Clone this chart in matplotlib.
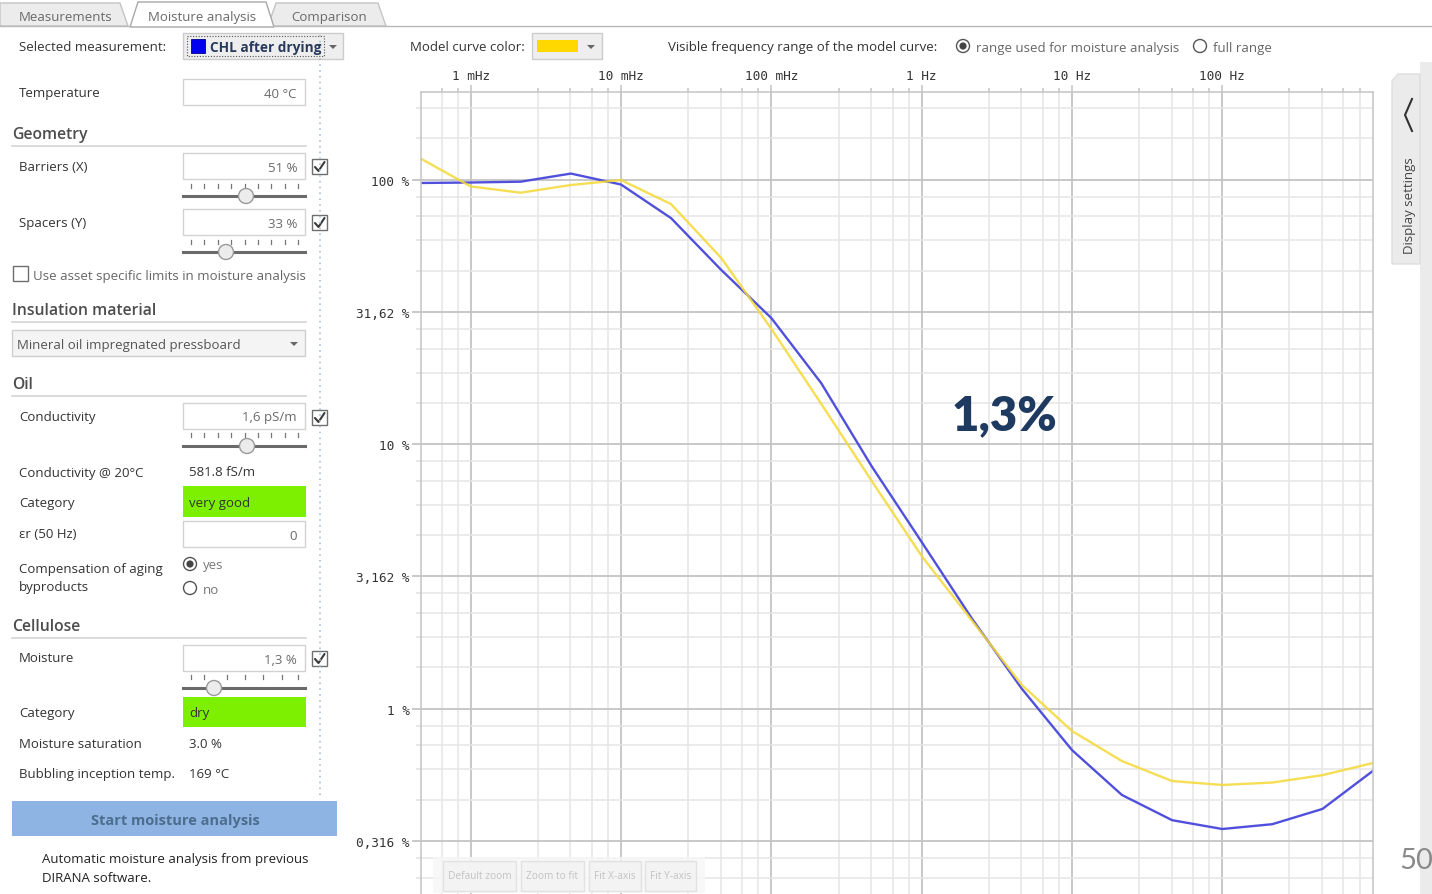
import numpy as np
import matplotlib.pyplot as plt
from matplotlib.patches import Rectangle, Circle, Polygon
from matplotlib.ticker import FixedLocator, FixedFormatter, NullFormatter

W, H = 1432, 895
UI_FONT = ['Open Sans', 'DejaVu Sans']
MONO = 'DejaVu Sans Mono'

# dielectric response: measured curve and fitted model curve
freq_hz = [0.000464, 0.001, 0.00215, 0.00464, 0.01, 0.0215, 0.0464, 0.1, 0.215, 0.464,
           1.0, 2.15, 4.64, 10.0, 21.5, 46.4, 100.0, 215.0, 464.0, 1000.0]
measured = [97.2, 97.6, 98.3, 105.5, 95.9, 71.6, 45.6, 30.0, 17.0, 8.27,
            4.27, 2.20, 1.19, 0.698, 0.472, 0.379, 0.351, 0.366, 0.418, 0.581]
model = [120.3, 94.3, 89.3, 95.5, 99.7, 80.9, 50.6, 27.3, 14.2, 7.28,
         3.78, 2.16, 1.23, 0.824, 0.634, 0.533, 0.515, 0.526, 0.561, 0.623]

x_ticks = [1e-3, 1e-2, 1e-1, 1.0, 10.0, 100.0]
x_labels = ['1 mHz', '10 mHz', '100 mHz', '1 Hz', '10 Hz', '100 Hz']
y_ticks = [100, 31.62, 10, 3.162, 1, 0.3162]
y_labels = ['100 %', '31,62 %', '10 %', '3,162 %', '1 %', '0,316 %']
moisture_result = '1,3%'

fig = plt.figure(figsize=(W / 100, H / 100), dpi=100)
fig.patch.set_facecolor('white')

# --- panel around the chart (pixel coordinates) ---
ui = fig.add_axes([0, 0, 1, 1])
ui.set_xlim(0, W)
ui.set_ylim(H, 0)
ui.axis('off')


def txt(a, x, y, s, size=9.5, color='#333333', ha='left', weight='normal', **kw):
    a.text(x, y + 1, s, fontsize=size, color=color, ha=ha, va='center',
           fontweight=weight, family=kw.pop('family', UI_FONT), **kw)


def box(x0, y0, x1, y1, fc='white', ec='#d2d2d2', lw=1.0, a=ui, **kw):
    a.add_patch(Rectangle((x0, y0), x1 - x0, y1 - y0, fc=fc, ec=ec, lw=lw, **kw))


def textbox(y0, value):
    box(183, y0, 305, y0 + 26)
    txt(ui, 297, y0 + 13, value, color='#6a6a6a', ha='right')


def checkbox(x, y, checked):
    box(x, y, x + 15, y + 15, ec='#6e6e6e')
    if checked:
        ui.plot([x + 3, x + 6.5, x + 12.5], [y + 8, y + 12, y + 3], color='#3a3a3a', lw=1.5,
                solid_capstyle='round')


def slider(ticks, y_tick, y_track, thumb):
    for t in ticks:
        ui.plot([t, t], [y_tick, y_tick + 4], color='#777777', lw=0.9)
    ui.plot([183, 305], [y_track, y_track], color='#6a6a6a', lw=2.2)
    ui.add_patch(Circle((thumb, y_track), 7.5, fc='#ececec', ec='#9a9a9a', lw=1, zorder=3))


def header(y, s):
    txt(ui, 12, y, s, size=11.3, color='#4d4d4d', weight='semibold')
    ui.plot([12, 306], [y + 13, y + 13], color='#d4d4d4', lw=1.2)


def radio(x, y, on):
    ui.add_patch(Circle((x, y), 6.5, fc='white', ec='#555555', lw=1))
    if on:
        ui.add_patch(Circle((x, y), 3.6, fc='#444444', ec='none'))


def arrow(x, y):
    ui.add_patch(Polygon([(x - 4, y - 2), (x + 4, y - 2), (x, y + 2)], fc='#666666', ec='none'))


# tabs
ui.add_patch(Polygon([(0, 27), (0, 4), (120, 4), (128, 27)], fc='#ececec', ec='#c4c4c4', lw=1))
ui.add_patch(Polygon([(268, 27), (276, 4), (378, 4), (386, 27)], fc='#ececec', ec='#c4c4c4', lw=1))
ui.add_patch(Polygon([(130, 28), (138, 3), (266, 3), (274, 28)], fc='white', ec='#a8a8a8', lw=1))
ui.plot([0, 131], [27, 27], color='#b8b8b8', lw=1)
ui.plot([273, W], [27, 27], color='#b8b8b8', lw=1)
txt(ui, 66, 16, 'Measurements', color='#6a6a6a', ha='center')
txt(ui, 202, 16, 'Moisture analysis', color='#6a6a6a', ha='center')
txt(ui, 329, 16, 'Comparison', color='#6a6a6a', ha='center')

# measurement selector
txt(ui, 19, 46, 'Selected measurement:')
box(183, 34, 343, 60, fc='#eeeeee', ec='#cccccc')
box(187, 37, 324, 57, fc='none', ec='#555555', lw=0.8, ls=(0, (1, 1.5)))
box(191, 40, 205, 54, fc='#0000ee', ec='#000088', lw=0.6)
txt(ui, 210, 47, 'CHL after drying', color='#27395c', weight='bold', size=9.8)
arrow(333, 48)

txt(ui, 19, 92, 'Temperature')
textbox(80, '40 °C')

header(134, 'Geometry')
txt(ui, 19, 166, 'Barriers (X)')
textbox(154, '51 %')
checkbox(312, 160, True)
slider(np.linspace(191, 298, 9), 185, 197, 246)

txt(ui, 19, 222, 'Spacers (Y)')
textbox(210, '33 %')
checkbox(312, 216, True)
slider(np.linspace(191, 298, 9), 241, 253, 226)

checkbox(13, 267, False)
txt(ui, 33, 275, 'Use asset specific limits in moisture analysis', color='#666666')

header(310, 'Insulation material')
box(12, 331, 305, 357, fc='#f4f4f4', ec='#cfcfcf')
txt(ui, 17, 344, 'Mineral oil impregnated pressboard', color='#555555')
arrow(294, 345)

header(384, 'Oil')
txt(ui, 19, 416, 'Conductivity')
textbox(404, '1,6 pS/m')
checkbox(312, 411, True)
slider(np.linspace(191, 298, 9), 434, 447, 247)

txt(ui, 19, 472, 'Conductivity @ 20°C')
txt(ui, 189, 472, '581.8 fS/m')
txt(ui, 19, 503, 'Category')
box(183, 487, 306, 518, fc='#7cf000', ec='none')
txt(ui, 189, 503, 'very good')
txt(ui, 19, 534, 'εr (50 Hz)')
textbox(522, '0')
txt(ui, 19, 568, 'Compensation of aging')
txt(ui, 19, 587, 'byproducts')
radio(190, 565, True)
txt(ui, 203, 565, 'yes', color='#777777')
radio(190, 589, False)
txt(ui, 203, 590, 'no', color='#777777')

header(626, 'Cellulose')
txt(ui, 19, 658, 'Moisture')
textbox(646, '1,3 %')
checkbox(312, 652, True)
slider([191, 204, 227, 245, 263, 282, 298], 676, 689, 214)
txt(ui, 19, 713, 'Category')
box(183, 698, 306, 728, fc='#7cf000', ec='none')
txt(ui, 189, 713, 'dry')
txt(ui, 19, 744, 'Moisture saturation')
txt(ui, 189, 744, '3.0 %')
txt(ui, 19, 774, 'Bubbling inception temp.')
txt(ui, 189, 774, '169 °C')

ui.plot([320, 320], [36, 800], color='#a9bfd6', lw=1.2, ls=(0, (1, 2.5)))

box(12, 802, 337, 837, fc='#8db4e2', ec='none')
txt(ui, 175, 820, 'Start moisture analysis', color='#4d6d8e', ha='center', weight='bold', size=10.5)
txt(ui, 42, 859, 'Automatic moisture analysis from previous', color='#222222')
txt(ui, 42, 878, 'DIRANA software.', color='#222222')

# chart options row
txt(ui, 410, 46, 'Model curve color:')
box(532, 34, 602, 60, fc='#eeeeee', ec='#cccccc')
box(537, 41, 578, 53, fc='#ffd800', ec='none')
arrow(591, 48)
txt(ui, 668, 46, 'Visible frequency range of the model curve:')
radio(963, 47, True)
txt(ui, 976, 47, 'range used for moisture analysis', color='#666666')
radio(1200, 47, False)
txt(ui, 1213, 47, 'full range', color='#666666')

# display settings side tab
box(1420, 63, W, H, fc='#ebebeb', ec='none')
ui.add_patch(Polygon([(1392, 265), (1392, 82), (1398, 75), (1420, 75), (1420, 265)],
                     fc='#ebebeb', ec='#dedede', lw=1))
ui.plot([1412, 1405, 1412], [100, 116, 132], color='#333333', lw=1.5)
txt(ui, 1409, 205, 'Display settings', rotation=90, ha='center', color='#444444', size=9.5)

# --- dielectric response chart ---
ax = fig.add_axes([420.7 / W, 0, (1373.3 - 420.7) / W, (H - 93) / H])
ax.set_xscale('log')
ax.set_yscale('log')
ax.set_xlim(10 ** -3.3327, 10 ** 3.0047)
ax.set_ylim(10 ** -0.7004, 10 ** 2.3316)

# minor grid divides each decade (x) and each half decade (y) into five linear steps
x_minor = [10.0 ** d * (1 + 1.8 * k) for d in range(-4, 4) for k in range(1, 5)]
y_major_all = [10 ** (h / 2) for h in range(-3, 6)]
y_minor = [a + (b - a) * k / 5 for a, b in zip(y_major_all[:-1], y_major_all[1:]) for k in range(1, 5)]

ax.xaxis.set_major_locator(FixedLocator(x_ticks))
ax.xaxis.set_major_formatter(FixedFormatter(x_labels))
ax.xaxis.set_minor_locator(FixedLocator(x_minor))
ax.xaxis.set_minor_formatter(NullFormatter())
ax.yaxis.set_major_locator(FixedLocator(y_ticks))
ax.yaxis.set_major_formatter(FixedFormatter(y_labels))
ax.yaxis.set_minor_locator(FixedLocator(y_minor))
ax.yaxis.set_minor_formatter(NullFormatter())

ax.set_axisbelow(True)
ax.grid(which='major', color='#c4c4c4', lw=1.3)
ax.grid(which='minor', color='#e6e6e6', lw=1.1)
for s in ax.spines.values():
    s.set_color('#c4c4c4')
    s.set_linewidth(1.1)
ax.spines['bottom'].set_visible(False)

ax.tick_params(axis='x', which='both', top=True, bottom=False, labeltop=True, labelbottom=False,
               color='#c4c4c4', width=1.1)
ax.tick_params(axis='x', which='major', length=5, pad=2.5)
ax.tick_params(axis='x', which='minor', length=3)
ax.tick_params(axis='y', which='major', length=6.5, width=1.3, color='#c4c4c4', pad=1.5)
ax.tick_params(axis='y', which='minor', length=3.5, width=1.1, color='#e0e0e0')
for lab in ax.get_xticklabels() + ax.get_yticklabels():
    lab.set_family(MONO)
    lab.set_fontsize(9.2)
    lab.set_color('#333333')

ax.plot(freq_hz, measured, color='#5050dc', lw=1.7)
ax.plot(freq_hz, model, color='#f4d935', lw=1.7, alpha=0.85)

# --- overlay: result label and zoom buttons ---
ov = fig.add_axes([0, 0, 1, 1], facecolor='none')
ov.set_xlim(0, W)
ov.set_ylim(H, 0)
ov.axis('off')

ov.text(1004, 416, moisture_result, fontsize=34, fontweight='heavy', color='#1f3a60',
        ha='center', va='center', family=['Lato', 'DejaVu Sans'])
ov.text(1399, 861, '50', fontsize=21, color='#8a8a8a', ha='left', va='center',
        family=['Lato', 'DejaVu Sans'])

box(433, 858, 705, 894, fc='#f7f7f7', ec='none', a=ov, alpha=0.8)
for x0, x1, s in [(443, 516, 'Default zoom'), (521, 584, 'Zoom to fit'),
                  (589, 641, 'Fit X-axis'), (645, 696, 'Fit Y-axis')]:
    box(x0, 862, x1, 892, fc='#f3f3f3', ec='#e2e2e2', a=ov)
    txt(ov, (x0 + x1) / 2, 876, s, size=7.3, color='#c2c2c2', ha='center')

fig.savefig('out.png', dpi=100, facecolor='white')
